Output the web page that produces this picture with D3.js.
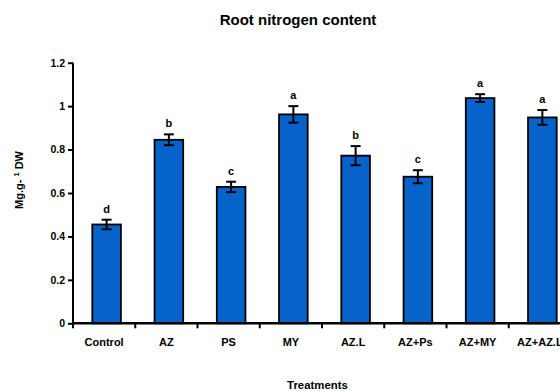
<!DOCTYPE html>
<html>
<head>
<meta charset="utf-8">
<script src="https://cdn.jsdelivr.net/npm/d3@7"></script>
<style>
  html, body { margin: 0; padding: 0; background: #fff; }
  svg { display: block; font-family: "Liberation Sans", Arial, sans-serif; }
</style>
</head>
<body>
<svg id="chart" width="560" height="391"></svg>
<script>
// Root nitrogen content per treatment (mg g-1 DW), with error and significance letters
const treatments = ["Control", "AZ", "PS", "MY", "AZ.L", "AZ+Ps", "AZ+MY", "AZ+AZ.L"];
const nitrogen   = [0.455, 0.845, 0.628, 0.962, 0.772, 0.675, 1.037, 0.948];
const errors     = [0.022, 0.025, 0.024, 0.038, 0.044, 0.030, 0.018, 0.034];
const letters    = ["d", "b", "c", "a", "b", "c", "a", "a"];
const yTicks     = [0, 0.2, 0.4, 0.6, 0.8, 1, 1.2];

const svg = d3.select("#chart");
const plotLeft = 73, plotRight = 571, plotTop = 62.7, plotBottom = 323.3;
const FONT = "Liberation Sans, Arial, sans-serif";

// One band per treatment; bars sit slightly right of the band centre
const xTick = d3.scaleBand().domain(treatments).range([plotLeft, plotRight]);
const step = xTick.step();
const barOffset = 0.31 * step, barWidth = 0.46 * step;
const barX = d => xTick(d) + barOffset;
const barCx = d => barX(d) + barWidth / 2;
const y = d3.scaleLinear().domain([0, 1.2]).range([plotBottom, plotTop]);

// Title
svg.append("text")
  .attr("x", 298).attr("y", 24.5)
  .attr("text-anchor", "middle")
  .attr("font-size", 15).attr("font-weight", "bold")
  .text("Root nitrogen content");

// Bars
svg.append("g").selectAll("rect")
  .data(treatments)
  .join("rect")
  .attr("x", barX)
  .attr("width", barWidth)
  .attr("y", (d, i) => y(nitrogen[i]))
  .attr("height", (d, i) => y(0) - y(nitrogen[i]))
  .attr("fill", "#0563C9")
  .attr("stroke", "#000")
  .attr("stroke-width", 1.8);

// Error bars
const eb = svg.append("g").attr("stroke", "#000").attr("stroke-width", 2);
treatments.forEach((t, i) => {
  const cx = barCx(t);
  const y1 = y(nitrogen[i] + errors[i]), y0 = y(nitrogen[i] - errors[i]);
  eb.append("line").attr("x1", cx).attr("x2", cx).attr("y1", y1).attr("y2", y0);
  eb.append("line").attr("x1", cx - 5).attr("x2", cx + 5).attr("y1", y1).attr("y2", y1);
  eb.append("line").attr("x1", cx - 5).attr("x2", cx + 5).attr("y1", y0).attr("y2", y0);
});

// Significance letters
svg.append("g").selectAll("text")
  .data(treatments)
  .join("text")
  .attr("x", barCx)
  .attr("y", (d, i) => y(nitrogen[i] + errors[i]) - 7)
  .attr("text-anchor", "middle")
  .attr("font-size", 11).attr("font-weight", "bold")
  .text((d, i) => letters[i]);

// Y axis
const yAxis = svg.append("g")
  .attr("transform", `translate(${plotLeft},0)`)
  .call(d3.axisLeft(y).tickValues(yTicks).tickFormat(d3.format("~g")).tickSize(5).tickPadding(3));
yAxis.select(".domain").attr("stroke-width", 2).attr("d", `M0,${plotTop}V${plotBottom + 1}`);
yAxis.selectAll(".tick line").attr("stroke-width", 2);
yAxis.selectAll("text").attr("font-size", 10.5).attr("font-weight", "bold")
  .attr("font-family", FONT).attr("fill", "#000");

// X axis
const xAxis = svg.append("g")
  .attr("transform", `translate(0,${plotBottom})`)
  .call(d3.axisBottom(xTick).tickSize(0).tickPadding(0));
xAxis.select(".domain").attr("stroke-width", 2.5).attr("d", `M${plotLeft},0H${plotRight}`);
xAxis.selectAll(".tick line").remove();
xAxis.selectAll("text").attr("font-size", 11).attr("font-weight", "bold")
  .attr("font-family", FONT).attr("fill", "#000")
  .attr("dy", null).attr("y", 22.5);
// Category separator ticks
xAxis.append("g").selectAll("line")
  .data(treatments)
  .join("line")
  .attr("x1", d => xTick(d)).attr("x2", d => xTick(d))
  .attr("y1", 0).attr("y2", 5)
  .attr("stroke", "#000").attr("stroke-width", 2);

// Axis titles
svg.append("text")
  .attr("x", 317.5).attr("y", 389)
  .attr("text-anchor", "middle")
  .attr("font-size", 11.4).attr("font-weight", "bold")
  .text("Treatments");

const yl = svg.append("text")
  .attr("transform", "translate(23,180) rotate(-90)")
  .attr("text-anchor", "middle")
  .attr("font-size", 11).attr("font-weight", "bold");
yl.append("tspan").text("Mg.g- ");
yl.append("tspan").attr("dy", -4.5).attr("font-size", 7.5).text("1");
yl.append("tspan").attr("dy", 4.5).text(" DW");
</script>
</body>
</html>
